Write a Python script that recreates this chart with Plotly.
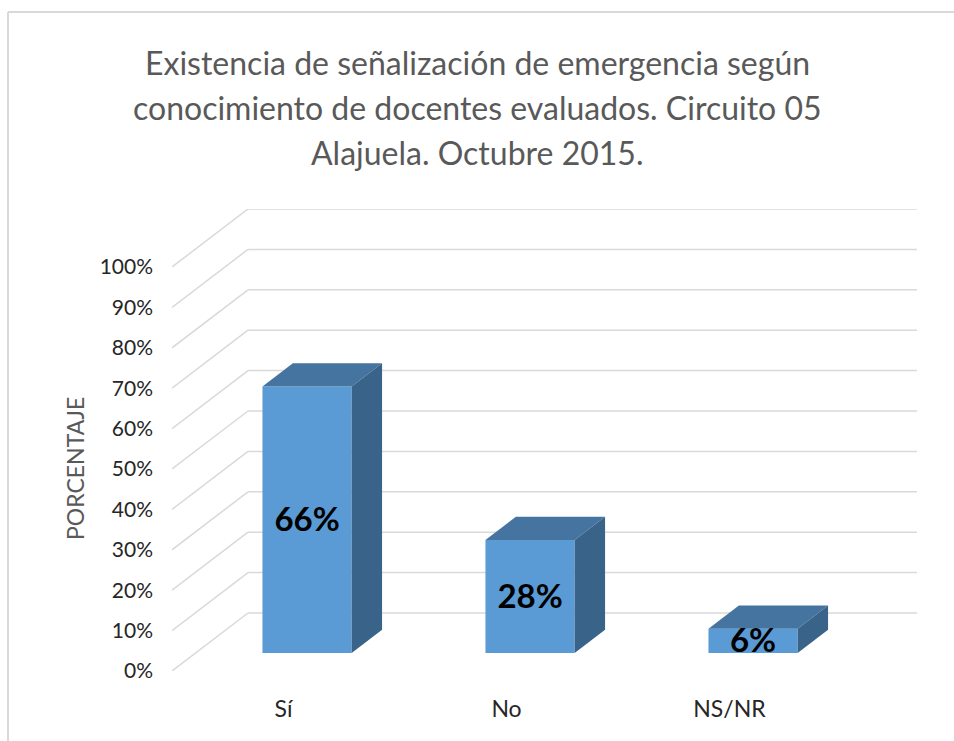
"""Excel 스타일 3D 막대그래프를 Plotly 2D 좌표 위에 사선 투영으로 흉내내는 스크립트."""

import plotly.graph_objects as go

CATEGORIES = ["Sí", "No", "NS/NR"]
VALUES = [66, 28, 6]
LABELS = ["66%", "28%", "6%"]
TICK_VALUES = [0, 10, 20, 30, 40, 50, 60, 70, 80, 90, 100]
TICK_TEXT = [f"{v}%" for v in TICK_VALUES]
TITLE_LINES = [
    "Existencia de señalización de emergencia según",
    "conocimiento de docentes evaluados. Circuito 05",
    "Alajuela. Octubre 2015.",
]
Y_TITLE = "PORCENTAJE"

# 화면 배치 (픽셀)
W, H = 954, 741
PLOT_L, PLOT_R, PLOT_T, PLOT_B = 172, 918, 209, 671
PX_PER_X = 223.0     # 카테고리 1칸
PX_PER_Y = 4.04      # 1%
X0 = -0.5            # 앞면 왼쪽 끝
X1 = 2.5             # 앞면 오른쪽 끝

# 깊이 1 단위가 화면에서 이동하는 양 (데이터 단위)
KX = 76 / PX_PER_X
KY = 58 / PX_PER_Y
D_FRONT, D_DEPTH = 0.31, 0.40   # 막대 앞면 깊이, 막대 두께
BAR_W = 0.40

FRONT = "#5B9BD5"
TOP = "#4674A0"
SIDE = "#3A6389"
GRID = "#D9D9D9"
FONT = "Lato"

x_range = [X0, X0 + (PLOT_R - PLOT_L) / PX_PER_X]
y_range = [0, (PLOT_B - PLOT_T) / PX_PER_Y]


def px_to_paper_x(px):
    return (px - PLOT_L) / (PLOT_R - PLOT_L)


def px_to_paper_y(py):
    return (PLOT_B - py) / (PLOT_B - PLOT_T)


# 격자: 왼쪽 벽 사선 + 뒷벽 수평선
shapes = []
for v in TICK_VALUES:
    shapes.append(dict(type="line", xref="x", yref="y", layer="below",
                       x0=X0, y0=v, x1=X0 + KX, y1=v + KY,
                       line=dict(color=GRID, width=1.5)))
    shapes.append(dict(type="line", xref="x", yref="y", layer="below",
                       x0=X0 + KX, y0=v + KY, x1=X1 + KX, y1=v + KY,
                       line=dict(color=GRID, width=1.5)))

# 차트 테두리 (위, 왼쪽만 보임)
shapes.append(dict(type="line", xref="paper", yref="paper", layer="below",
                   x0=px_to_paper_x(8), x1=px_to_paper_x(W + 5),
                   y0=px_to_paper_y(12), y1=px_to_paper_y(12),
                   line=dict(color=GRID, width=2)))
shapes.append(dict(type="line", xref="paper", yref="paper", layer="below",
                   x0=px_to_paper_x(8), x1=px_to_paper_x(8),
                   y0=px_to_paper_y(12), y1=px_to_paper_y(H + 5),
                   line=dict(color=GRID, width=2)))

base = D_FRONT * KY
xc = [i + D_FRONT * KX for i in range(len(CATEGORIES))]
dx, dy = D_DEPTH * KX, D_DEPTH * KY

traces = [
    go.Bar(x=xc, y=VALUES, base=base, width=BAR_W,
           marker=dict(color=FRONT, line=dict(width=0)), hoverinfo="skip")
]
for c, v in zip(xc, VALUES):
    xl, xr, top = c - BAR_W / 2, c + BAR_W / 2, base + v
    traces.append(go.Scatter(
        x=[xl, xr, xr + dx, xl + dx, xl], y=[top, top, top + dy, top + dy, top],
        mode="lines", fill="toself", fillcolor=TOP, line=dict(width=0), hoverinfo="skip"))
    traces.append(go.Scatter(
        x=[xr, xr + dx, xr + dx, xr, xr], y=[base, base + dy, top + dy, top, base],
        mode="lines", fill="toself", fillcolor=SIDE, line=dict(width=0), hoverinfo="skip"))

traces.append(go.Scatter(
    x=xc, y=[base + v / 2 - 0.8 for v in VALUES], text=LABELS, mode="text",
    textfont=dict(family=FONT, size=33, color="black", weight="bold"),
    hoverinfo="skip"))

fig = go.Figure(data=traces)

annotations = []
for k, line in enumerate(TITLE_LINES):
    annotations.append(dict(text=line, xref="paper", yref="paper",
                            x=px_to_paper_x(477), y=px_to_paper_y(62 + 45 * k),
                            xanchor="center", yanchor="middle", showarrow=False,
                            font=dict(family=FONT, size=32, color="#595959")))
annotations.append(dict(text=Y_TITLE, xref="paper", yref="y",
                        x=px_to_paper_x(75), y=50,
                        xanchor="center", yanchor="middle", textangle=-90, showarrow=False,
                        font=dict(family=FONT, size=23, color="#595959")))

fig.update_layout(
    width=W, height=H,
    margin=dict(l=PLOT_L, r=W - PLOT_R, t=PLOT_T, b=H - PLOT_B, autoexpand=False),
    paper_bgcolor="white", plot_bgcolor="white",
    showlegend=False,
    shapes=shapes,
    annotations=annotations,
    xaxis=dict(range=x_range, tickvals=list(range(len(CATEGORIES))), ticktext=CATEGORIES,
               showgrid=False, zeroline=False, showline=False, ticks="",
               ticklabelstandoff=22, tickfont=dict(family=FONT, size=23, color="#262626")),
    yaxis=dict(range=y_range, tickvals=TICK_VALUES, ticktext=TICK_TEXT,
               showgrid=False, zeroline=False, showline=False, ticks="",
               ticklabelstandoff=18, tickfont=dict(family=FONT, size=21, color="#262626")),
)

# 페이지 기본 여백(8px) 제거 -> 그림이 창 왼쪽 위에 딱 붙도록
fig.write_html("out.html", config={"displayModeBar": False},
               post_script="document.body.style.margin='0';")
